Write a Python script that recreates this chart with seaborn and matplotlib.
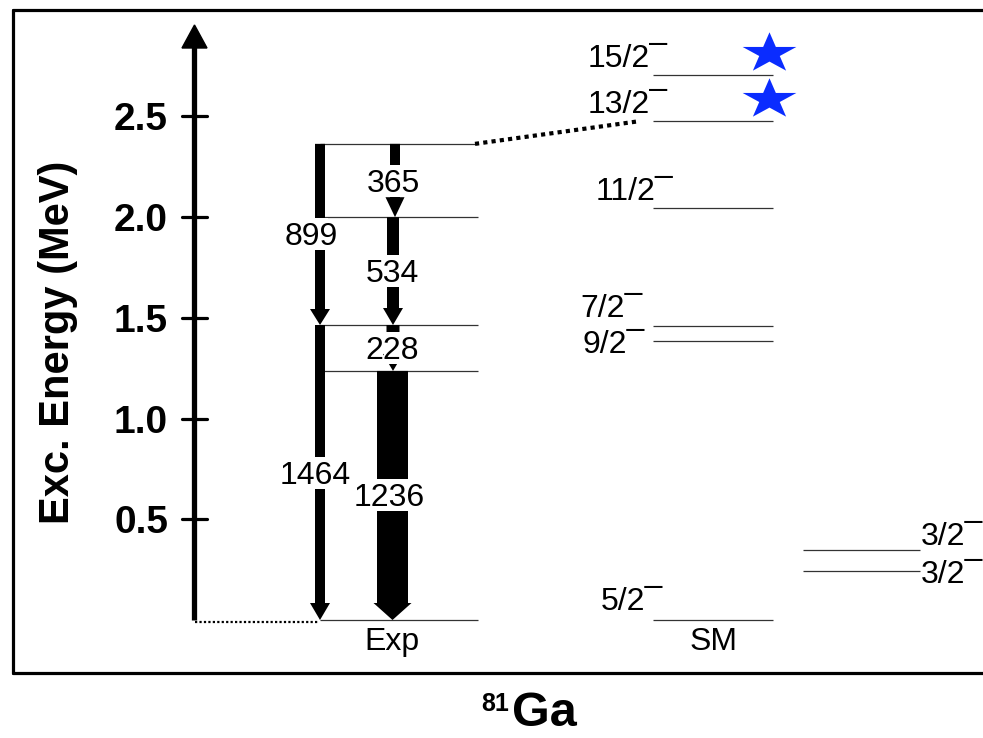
import numpy as np
import pandas as pd
import matplotlib
matplotlib.use("Agg")
import matplotlib.pyplot as plt
from matplotlib.patches import Polygon, Rectangle
from matplotlib.lines import Line2D
from matplotlib.path import Path
import seaborn as sns

# ---------------------------------------------------------------- data
# Experimental levels of 81Ga (MeV)
exp_levels = [0.0, 1.236, 1.464, 1.999, 2.363]

# Observed gamma rays (keV label) with initial and final level (MeV)
gamma_labels = ["899", "365", "534", "228", "1464", "1236"]
gamma_from = [2.363, 2.363, 1.999, 1.464, 1.464, 1.236]
gamma_to = [1.464, 1.999, 1.464, 1.236, 0.0, 0.0]

# Shell-model levels (MeV) and spin-parity labels
sm_levels = [0.0, 0.243, 0.347, 1.385, 1.461, 2.045, 2.476, 2.705]
sm_labels = ["5/2¯", "3/2¯", "3/2¯", "9/2¯", "7/2¯", "11/2¯", "13/2¯", "15/2¯"]
starred = ["13/2¯", "15/2¯"]

tick_values = [0.5, 1.0, 1.5, 2.0, 2.5]
tick_labels = ["0.5", "1.0", "1.5", "2.0", "2.5"]

# ---------------------------------------------------------------- layout
W, H = 983, 738
PX_PER_MEV = 201.5          # vertical scale
Y0_PX = 620                 # pixel row of the ground state


def px(d):
    """vertical pixel distance -> MeV"""
    return d / PX_PER_MEV


def row(y_px):
    """pixel row -> energy coordinate"""
    return (Y0_PX - y_px) / PX_PER_MEV


sns.set_theme(style="white")
plt.rcParams["font.family"] = ["Liberation Sans", "DejaVu Sans"]
plt.rcParams["text.color"] = "black"

fig = plt.figure(figsize=(W / 100, H / 100), dpi=100)
ax = fig.add_axes([0, 0, 1, 1])
ax.set_xlim(0, W)
ax.set_ylim(row(H), row(0))
ax.axis("off")

LEVEL_KW = dict(color="#333333", lw=0.9, zorder=1)
FS = 23

# outer frame (open on the right)
for xs, ys in [((13, W + 5), (10, 10)), ((13, W + 5), (673, 673)), ((13, 13), (10, 673))]:
    fig.add_artist(Line2D([x / W for x in xs], [1 - y / H for y in ys],
                          transform=fig.transFigure, color="black", lw=2.3))

# energy axis with arrow head
ax.plot([194, 194], [0, row(44)], color="black", lw=3.8, solid_capstyle="butt", zorder=2)
ax.add_patch(Polygon([(194.5, row(25)), (182, row(48)), (207, row(48))],
                     closed=True, color="black", zorder=2))
for v, lab in zip(tick_values, tick_labels):
    ax.plot([182, 207], [v, v], color="black", lw=2.3, zorder=2)
    ax.text(168, v - px(14), lab, ha="right", va="baseline",
            fontsize=28, fontweight="bold", color="black")
ax.text(58, row(342), "Exc. Energy (MeV)", rotation=90, ha="center", va="center",
        fontsize=30, fontweight="bold", color="black")

# experimental levels
ax.hlines(exp_levels, 320, 478, **LEVEL_KW)
ax.plot([195, 318], [-px(2), -px(2)], color="black", lw=1.6,
        linestyle=(0, (1, 1)), dash_capstyle="butt", zorder=1)
ax.plot([475, 640], [max(exp_levels), sm_levels[sm_labels.index("13/2¯")]],
        color="black", lw=3.0, linestyle=(0, (1, 1)), dash_capstyle="butt", zorder=1)

# gamma-ray arrows: shaft width reflects intensity
gamma_x = [320, 395, 393, 393, 320, 392.5]
shaft_w = [10, 10, 12, 13, 10, 31]
head_w = [20, 19, 20, 20, 20, 38]
head_len = [16, 20, 17, 17, 17, 17]
label_x = [311, 393, 392, 392, 315, 389]

for lab, e1, e2, x, sw, hw, hl, lx in zip(gamma_labels, gamma_from, gamma_to,
                                          gamma_x, shaft_w, head_w, head_len, label_x):
    hb = e2 + px(hl)
    verts = [(x - sw / 2, e1), (x + sw / 2, e1), (x + sw / 2, hb), (x + hw / 2, hb),
             (x, e2), (x - hw / 2, hb), (x - sw / 2, hb)]
    ax.add_patch(Polygon(verts, closed=True, color="black", lw=0, zorder=2))
    mid = (e1 + e2) / 2
    ax.add_patch(Rectangle((x - sw / 2 - 3, mid - px(16)), sw + 6, px(32),
                           color="white", lw=0, zorder=3))
    ax.text(lx, mid - px(11), lab, ha="center", va="baseline", fontsize=FS,
            color="black", zorder=4)

# shell-model levels
sm_x0 = [653, 803, 803, 653, 653, 653, 653, 653]
sm_x1 = [773, 920, 920, 773, 773, 773, 773, 773]
sm_lab_x = [663, 921, 921, 645, 643, 673, 668, 668]
sm_lab_ha = ["right", "left", "left", "right", "right", "right", "right", "right"]
sm_lab_dy = [-10, 12, -5, 12, -9, -8, -8, -8]
for e, lab, x0, x1, lx, ha, dy in zip(sm_levels, sm_labels, sm_x0, sm_x1,
                                      sm_lab_x, sm_lab_ha, sm_lab_dy):
    ax.hlines(e, x0, x1, **LEVEL_KW)
    ax.text(lx, e - px(dy), lab, ha=ha, va="baseline", fontsize=FS,
            color="black", zorder=4)

# stars marking the states of interest
t = np.linspace(0, 2 * np.pi, 11)[:-1] + np.pi / 2
r = np.where(np.arange(10) % 2 == 0, 1.0, 0.382)
star = Path(np.column_stack([r * np.cos(t), 0.75 * r * np.sin(t)]))
star_df = pd.DataFrame({
    "x": [769] * len(starred),
    "E": [sm_levels[sm_labels.index(s)] + px(22) for s in starred],
})
sns.scatterplot(data=star_df, x="x", y="E", marker=star, s=1500, color="#0a2cff",
                linewidth=0, ax=ax, legend=False, zorder=5)

# column captions
ax.text(392, row(650), "Exp", ha="center", va="baseline", fontsize=FS, color="black")
ax.text(714, row(650), "SM", ha="center", va="baseline", fontsize=FS, color="black")

# nucleus label
fig.text(512 / W, 1 - 726 / H, "Ga", ha="left", va="baseline",
         fontsize=35, fontweight="bold", color="black")
fig.text(509 / W, 1 - 692 / H, "81", ha="right", va="top",
         fontsize=18, fontweight="bold", color="black")

fig.savefig("out.png", dpi=100)
